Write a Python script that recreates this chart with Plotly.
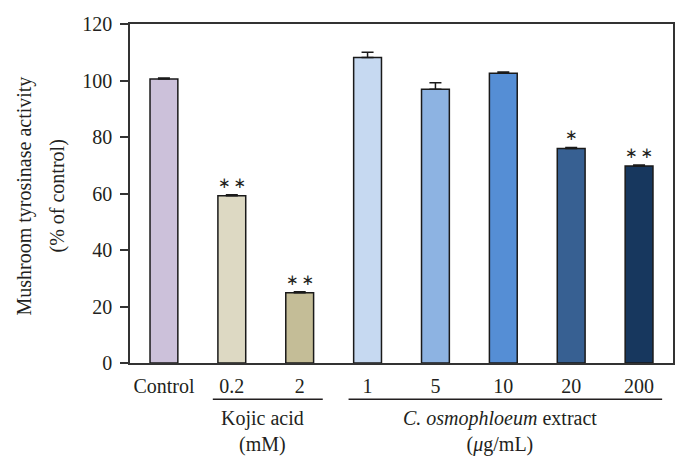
import plotly.graph_objects as go

categories = ["Control", "0.2", "2", "1", "5", "10", "20", "200"]
values = [100.5, 59.2, 24.9, 108.1, 96.9, 102.6, 75.9, 69.7]
errors = [0.4, 0.4, 0.3, 1.9, 2.3, 0.4, 0.4, 0.4]
signif = ["", "**", "**", "", "", "", "*", "**"]
colors = ["#ccc1da", "#ddd9c3", "#c4bd97", "#c6d9f1", "#8db3e2", "#558ed5", "#376092", "#17375e"]
y_ticks = [0, 20, 40, 60, 80, 100, 120]
y_title = ["Mushroom tyrosinase activity", "(% of control)"]

groups = ["Kojic acid<br>(mM)", "<i>C. osmophloeum</i> extract<br>(<i>μ</i>g/mL)"]
group_first = [1, 3]
group_last = [2, 7]

FONT = "Liberation Serif"
TXT = "#231f20"
FS = 20

fig = go.Figure()
fig.add_trace(go.Bar(
    x=categories, y=values,
    marker=dict(color=colors, line=dict(color="#1a1a1a", width=1.5)),
    width=0.41,
    error_y=dict(type="data", array=errors, arrayminus=[0]*len(errors), symmetric=False,
                 color="#1a1a1a", thickness=1.5, width=6),
    showlegend=False,
))

for i, s in enumerate(signif):
    if s:
        fig.add_annotation(x=i, y=values[i] + errors[i], text="\u2009".join("∗" * len(s)),
                           showarrow=False, yanchor="bottom", yshift=1,
                           font=dict(family="DejaVu Sans", size=15, color=TXT))

for g, a, b in zip(groups, group_first, group_last):
    fig.add_shape(type="line", xref="x", yref="paper",
                  x0=a - 0.28, x1=b + 0.34, y0=-0.107, y1=-0.107,
                  line=dict(color=TXT, width=1.5))
    fig.add_annotation(x=(a + b) / 2 - 0.05, xref="x", yref="paper", y=-0.125, yanchor="top",
                       text=g, showarrow=False,
                       font=dict(family=FONT, size=FS, color=TXT))

for line, shift in zip(y_title, [-106, -73]):
    fig.add_annotation(x=0, xref="paper", y=0.5, yref="paper", xshift=shift, yshift=-3,
                       text=line, textangle=-90, showarrow=False,
                       xanchor="center", yanchor="middle",
                       font=dict(family=FONT, size=FS, color=TXT))

fig.update_layout(
    width=679, height=462,
    margin=dict(l=122, r=14, t=16, b=107),
    paper_bgcolor="white", plot_bgcolor="white",
    font=dict(family=FONT, size=FS, color=TXT),
    bargap=0.5,
    xaxis=dict(type="category", showline=True, linecolor="#333333", linewidth=1.5,
               mirror=True, ticks="", showgrid=False, ticklabelstandoff=4, automargin=False,
               tickfont=dict(family=FONT, size=FS, color=TXT), range=[-0.5, 7.5]),
    yaxis=dict(range=[0, 120], tickvals=y_ticks, showline=True, linecolor="#333333",
               linewidth=1.5, mirror=True, ticks="outside", ticklen=8, tickwidth=1.5,
               tickcolor="#333333", showgrid=False, zeroline=False, automargin=False,
               ticklabelstandoff=4,
               tickfont=dict(family=FONT, size=FS, color=TXT)),
)

fig.write_html("out.html")
